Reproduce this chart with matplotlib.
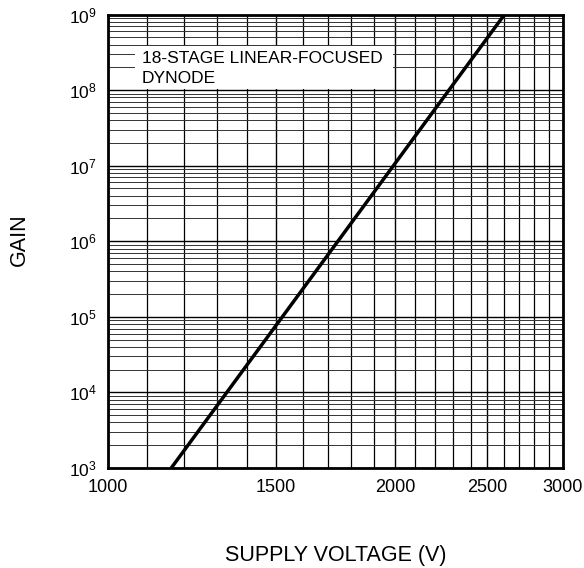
import matplotlib
matplotlib.use("Agg")
import matplotlib.pyplot as plt
from matplotlib.ticker import FixedLocator, NullFormatter, LogLocator
from matplotlib.patches import Rectangle
import numpy as np

plt.rcParams['font.family'] = ['Liberation Sans', 'DejaVu Sans']
plt.rcParams['mathtext.default'] = 'regular'

# Data
voltage = [1165, 2605]          # supply voltage (V)
gain = [1e3, 1e9]               # gain
xticks = [1000, 1500, 2000, 2500, 3000]
xtick_labels = ['1000', '1500', '2000', '2500', '3000']
yticks = [1e3, 1e4, 1e5, 1e6, 1e7, 1e8, 1e9]
ytick_labels = ['10$^{3}$', '10$^{4}$', '10$^{5}$', '10$^{6}$', '10$^{7}$', '10$^{8}$', '10$^{9}$']
x_minor = list(range(1100, 3000, 100))
annotation = '18-STAGE LINEAR-FOCUSED\nDYNODE'

fig = plt.figure(figsize=(5.84, 5.68), dpi=100)
ax = fig.add_axes([108/584, 1 - 468/568, (563-108)/584, (468-14.5)/568])
ax.set_xscale('log')
ax.set_yscale('log')
ax.set_xlim(1000, 3000)
ax.set_ylim(1e3, 1e9)

ax.xaxis.set_major_locator(FixedLocator(xticks))
ax.set_xticklabels(xtick_labels)
ax.xaxis.set_minor_locator(FixedLocator(x_minor))
ax.xaxis.set_minor_formatter(NullFormatter())
ax.yaxis.set_major_locator(FixedLocator(yticks))
ax.set_yticklabels(ytick_labels)
ax.yaxis.set_minor_locator(LogLocator(base=10, subs=np.arange(2, 10), numticks=20))
ax.yaxis.set_minor_formatter(NullFormatter())

ax.tick_params(which='both', length=0, colors='black')
ax.tick_params(axis='x', pad=8, labelsize=13)
ax.tick_params(axis='y', pad=8, labelsize=12.5)

ax.grid(which='major', axis='both', color='black', linewidth=1.0)
ax.grid(which='minor', axis='x', color='black', linewidth=0.9)
ax.grid(which='minor', axis='y', color='#333333', linewidth=0.7)
ax.set_axisbelow(True)

for s in ax.spines.values():
    s.set_linewidth(2.0)
    s.set_color('black')
    s.set_zorder(5)

ax.plot(voltage, gain, color='black', linewidth=2.5, zorder=4, solid_capstyle='butt')

# white label box
ax.add_patch(Rectangle((0.0593, 0.836), 0.567, 0.0945, transform=ax.transAxes,
                       facecolor='white', edgecolor='none', zorder=2))
ax.text(0.0747, 0.848, annotation, transform=ax.transAxes, fontsize=12.5,
        ha='left', va='baseline', linespacing=1.45, zorder=3)

fig.text(19/584, 1 - 240/568, 'GAIN', rotation=90, ha='center', va='center', fontsize=15.5)
fig.text(336/584, 1 - 555/568, 'SUPPLY VOLTAGE (V)', ha='center', va='center', fontsize=15.5)

fig.savefig('out.png', dpi=100)
